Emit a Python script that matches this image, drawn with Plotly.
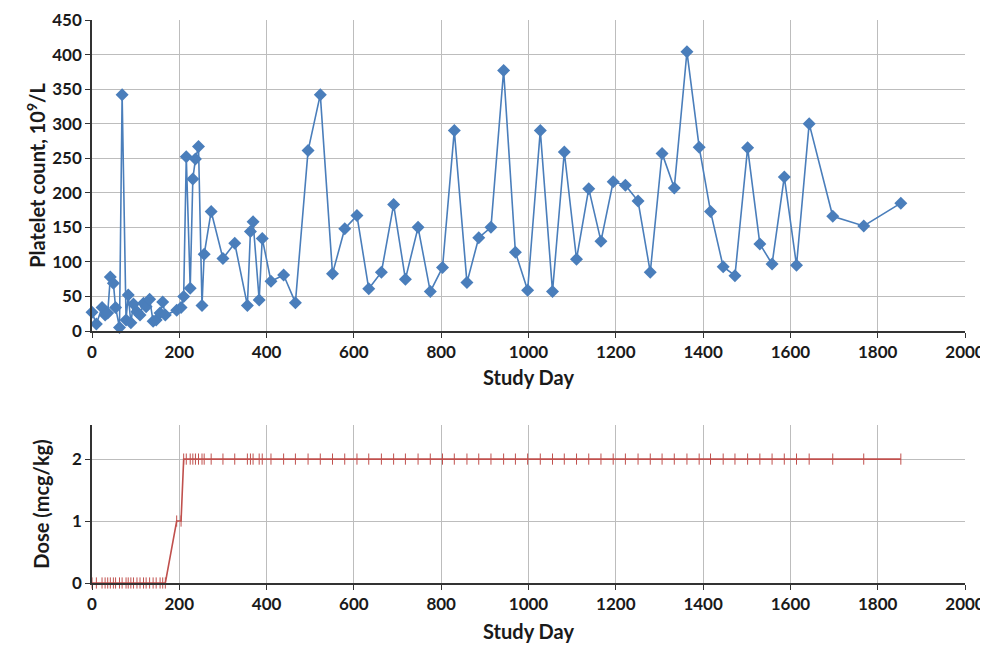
import plotly.graph_objects as go

study_day = [0, 10, 23, 30, 36, 42, 49, 54, 63, 69, 78, 83, 89, 95, 103, 110, 118, 124, 132, 140,
             147, 156, 162, 168, 194, 204, 210, 216, 225, 231, 237, 244, 252, 257, 273, 300, 327,
             356, 363, 369, 383, 390, 410, 439, 466, 495, 523, 551, 579, 607, 634, 663, 691, 718,
             747, 775, 803, 830, 859, 886, 914, 943, 970, 998, 1027, 1055, 1082, 1110, 1138, 1166,
             1194, 1222, 1251, 1279, 1306, 1334, 1363, 1391, 1417, 1446, 1473, 1502, 1530, 1558,
             1586, 1614, 1643, 1697, 1768, 1853]
platelets = [27, 10, 34, 23, 26, 78, 69, 34, 5, 342, 16, 52, 12, 39, 28, 23, 40, 35, 46, 14,
             16, 26, 42, 23, 30, 34, 50, 252, 62, 220, 249, 267, 37, 111, 173, 105, 127,
             37, 144, 158, 45, 134, 72, 81, 41, 261, 342, 83, 148, 167, 61, 85, 183, 75,
             150, 57, 92, 290, 70, 135, 150, 377, 114, 59, 290, 57, 259, 104, 206, 130,
             216, 211, 188, 85, 257, 207, 404, 266, 173, 93, 80, 265, 126, 97,
             223, 95, 300, 166, 152, 185]
dose = [0] * 24 + [1, 1] + [2] * (len(study_day) - 26)

x_ticks = list(range(0, 2001, 200))
platelet_ticks = list(range(0, 451, 50))
dose_ticks = [0, 1, 2]

FONT = "Lato"
TXT = "#1a1a1a"
GRID = "#bdbdbd"
AX = "#333333"

fig = go.Figure()
fig.add_trace(go.Scatter(
    x=study_day, y=platelets, mode="lines+markers",
    line=dict(color="#4a7ebb", width=1.6),
    marker=dict(symbol="diamond", size=10, color="#4a7ebb"),
    cliponaxis=False, xaxis="x", yaxis="y", showlegend=False))
fig.add_trace(go.Scatter(
    x=study_day, y=dose, mode="lines+markers",
    line=dict(color="#c0504d", width=1.6),
    marker=dict(symbol="line-ns", size=8, line=dict(color="#c0504d", width=1)),
    cliponaxis=False, xaxis="x2", yaxis="y2", showlegend=False))

tickfont = dict(family=FONT, size=17, color=TXT, weight="bold")
titlefont = dict(family=FONT, size=20, color=TXT, weight="bold")

common_x = dict(range=[0, 2000], tickvals=x_ticks, showgrid=True, gridcolor=GRID, gridwidth=1,
                showline=True, linecolor=AX, linewidth=1.5, ticks="outside", ticklen=5,
                tickcolor=AX, tickfont=tickfont, zeroline=False, automargin=False)
common_y = dict(showgrid=True, gridcolor=GRID, gridwidth=1, showline=True, linecolor=AX,
                linewidth=1.5, ticks="outside", ticklen=5, tickcolor=AX, tickfont=tickfont,
                zeroline=False, automargin=False)

# page body has an 8px margin, so the figure is sized/margined to compensate
fig.update_layout(
    width=980, height=639,
    margin=dict(l=84, r=23, t=12, b=64),
    paper_bgcolor="white", plot_bgcolor="white",
    xaxis=dict(**common_x, anchor="y",
               title=dict(text="Study Day", font=titlefont, standoff=10)),
    yaxis=dict(**common_y, domain=[0.4476, 1.0], range=[0, 450], tickvals=platelet_ticks,
               title=dict(text="Platelet count, 10<sup>9</sup>/L", font=titlefont, standoff=1)),
    xaxis2=dict(**common_x, anchor="y2",
                title=dict(text="Study Day", font=titlefont, standoff=12)),
    yaxis2=dict(**common_y, domain=[0.0, 0.2806], range=[0, 2.55], tickvals=dose_ticks,
                title=dict(text="Dose (mcg/kg)", font=titlefont, standoff=17)),
)

fig.write_html("out.html")
